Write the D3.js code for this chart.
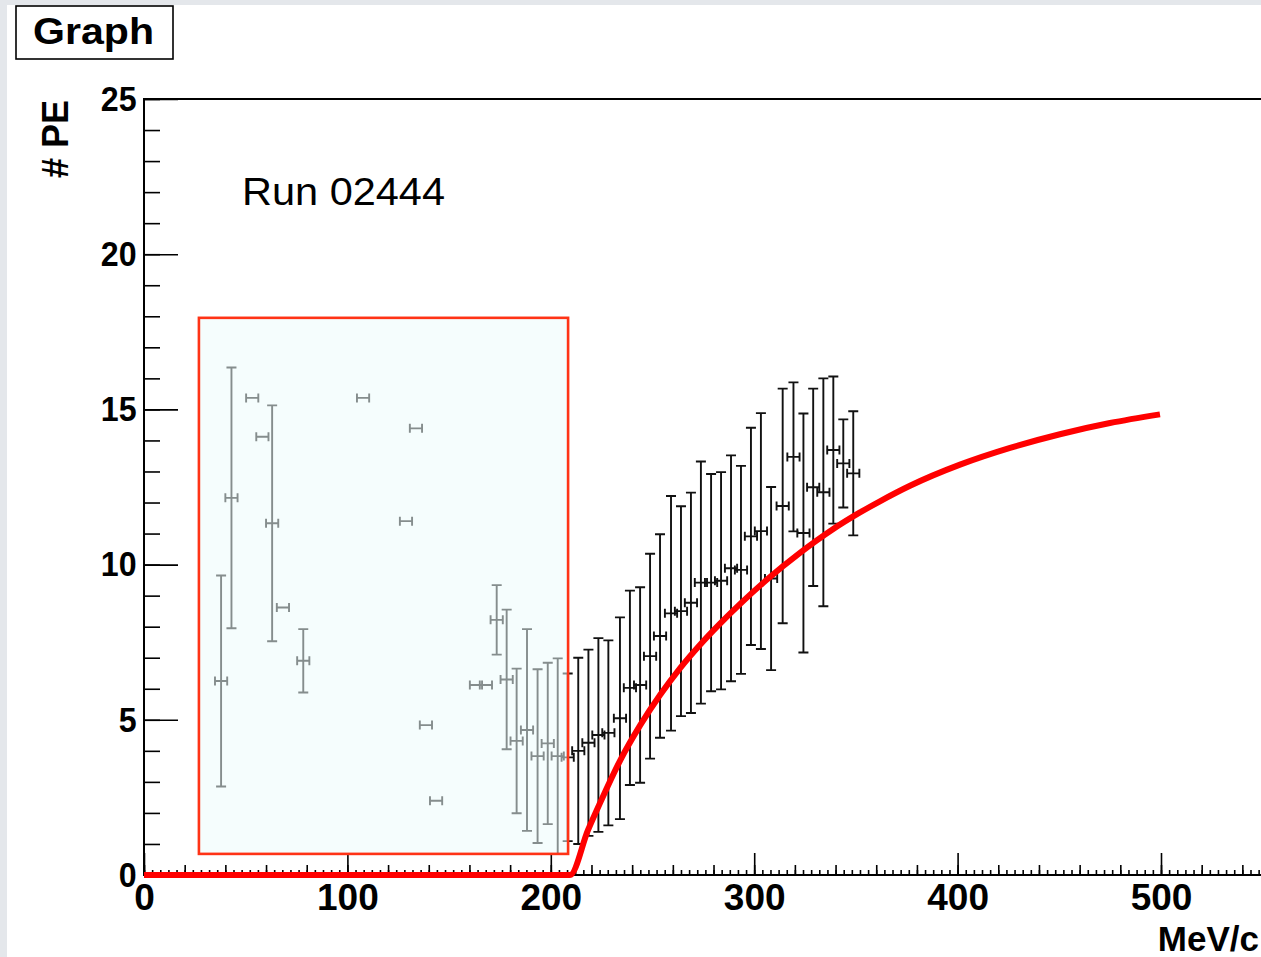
<!DOCTYPE html>
<html>
<head>
<meta charset="utf-8">
<script src="https://cdn.jsdelivr.net/npm/d3@7/dist/d3.min.js"></script>
<style>
  body { margin: 0; background: #fff; }
  svg { display: block; font-family: "Liberation Sans", Arial, Helvetica, sans-serif; }
</style>
</head>
<body>
<div id="chart"></div>
<script>
'use strict';

// measured points (MeV/c, #PE, error on #PE)
const ptX = [37.9, 43.0, 53.2, 58.2, 63.0, 68.3, 78.3, 107.7, 128.8, 133.7,
    138.6, 143.6, 163.2, 168.1, 173.4, 178.3, 183.2, 188.3, 193.5, 198.5,
    203.4, 208.3, 213.5, 218.5, 223.4, 228.3, 234.0, 238.9, 243.9, 248.8,
    253.7, 259.1, 264.0, 268.9, 273.8, 278.8, 283.7, 288.6, 293.5, 298.4,
    303.3, 308.3, 314.0, 319.3, 324.2, 329.0, 334.0, 338.9, 343.8, 348.7]
const ptY = [6.25, 12.15, 15.37, 14.12, 11.33, 8.62, 6.9, 15.37, 11.4, 14.39,
    4.83, 2.39, 6.12, 6.12, 8.22, 6.3, 4.32, 4.67, 3.83, 4.24,
    3.83, 3.79, 4.0, 4.26, 4.51, 4.58, 5.05, 6.03, 6.12, 7.05,
    7.7, 8.43, 8.5, 8.77, 9.42, 9.42, 9.48, 9.88, 9.83, 10.91,
    11.08, 9.55, 11.89, 13.47, 11.02, 12.49, 12.33, 13.69, 13.26, 12.94]
const ptEY = [3.4, 4.2, 0, 0, 3.8, 0, 1.02, 0, 0, 0,
    0, 0, 0, 0, 1.12, 2.25, 2.33, 3.25, 2.8, 2.6,
    3.15, 2.7, 3.0, 3.0, 3.12, 2.98, 3.25, 3.13, 3.15, 3.3,
    3.28, 3.78, 3.38, 3.55, 3.9, 3.5, 3.5, 3.64, 3.35, 3.5,
    3.8, 2.95, 3.78, 2.4, 3.85, 3.18, 3.67, 2.37, 1.42, 2.0]
const ptEX = 3

// fit curve
const fitX = [0, 209.4, 218.3, 224.2, 234, 243.9, 253.7, 263.5, 273.4, 283.2,
    293.5, 306.3, 322.5, 338.7, 352, 361.8, 376.6, 401.2, 425.8, 450.3, 474.9, 499.5]
const fitY = [0, 0, 1.45, 2.32, 3.68, 4.82, 5.8, 6.66, 7.42, 8.1,
    8.76, 9.52, 10.38, 11.14, 11.68, 12.04, 12.54, 13.22, 13.76, 14.2, 14.56, 14.84]

// highlighted (excluded) region, in data units
const boxX = [27, 208.5]
const boxY = [0.68, 17.95]

const xMajor = [0, 100, 200, 300, 400, 500]
const yMajor = [0, 5, 10, 15, 20, 25]

const W = 1261, H = 957
const padLeft = 144, padTop = 99, padBottom = 875

const svg = d3.select("#chart").append("svg")
    .attr("width", W)
    .attr("height", H)

// canvas border like the screenshot
svg.append("rect").attr("width", W).attr("height", H).attr("fill", "#e4e7eb")
svg.append("rect").attr("x", 7).attr("y", 5).attr("width", W).attr("height", H).attr("fill", "#fff")

const x = d3.scaleLinear().domain([0, 560]).range([padLeft, padLeft + 560 * 2.034])
const y = d3.scaleLinear().domain([0, 25]).range([padBottom, padTop])

// ---- axes
const xMinor = svg.append("g").attr("transform", `translate(0, ${padBottom})`)
    .call(d3.axisBottom(x).tickValues(d3.range(0, 561, 4)).tickSize(-5).tickFormat(""))
const xMid = svg.append("g").attr("transform", `translate(0, ${padBottom})`)
    .call(d3.axisBottom(x).tickValues(d3.range(0, 561, 20)).tickSize(-10).tickFormat(""))
const xAxis = svg.append("g").attr("transform", `translate(0, ${padBottom})`)
    .call(d3.axisBottom(x).tickValues(xMajor).tickSize(-22).tickPadding(9))

const yMinor = svg.append("g").attr("transform", `translate(${padLeft}, 0)`)
    .call(d3.axisLeft(y).tickValues(d3.range(0, 26, 1)).tickSize(-16).tickFormat(""))
const yAxis = svg.append("g").attr("transform", `translate(${padLeft}, 0)`)
    .call(d3.axisLeft(y).tickValues(yMajor).tickSize(-34).tickPadding(8))

for (const g of [xMinor, xMid, xAxis, yMinor, yAxis]) {
    g.select(".domain").remove()
    g.selectAll("line").attr("stroke", "#000").attr("stroke-width", 1.6)
}
xAxis.selectAll("text")
    .attr("font-size", 37).attr("font-weight", "bold").attr("fill", "#000")
yAxis.selectAll("text")
    .attr("font-size", 35).attr("font-weight", "bold").attr("fill", "#000")
    .attr("transform", "scale(0.92,1)")

// frame
svg.append("path")
    .attr("d", `M${W + 5},${padTop}H${padLeft}V${padBottom}H${W + 5}`)
    .attr("fill", "none")
    .attr("stroke", "#000")
    .attr("stroke-width", 2)

// ---- points with error bars
const pts = ptX.map((v, i) => ({ x: v, y: ptY[i], e: ptEY[i] }))
const pg = svg.append("g").attr("stroke", "#111").attr("stroke-width", 1.9).attr("fill", "none")
pts.forEach(p => {
    const cx = x(p.x), cy = y(p.y)
    const xl = x(p.x - ptEX), xr = x(p.x + ptEX)
    let d = `M${xl},${cy}H${xr}M${xl},${cy - 4.5}V${cy + 4.5}M${xr},${cy - 4.5}V${cy + 4.5}`
    if (p.e > 0) {
        const y0 = y(p.y - p.e), y1 = y(p.y + p.e)
        d += `M${cx},${y0}V${y1}M${cx - 5},${y0}H${cx + 5}M${cx - 5},${y1}H${cx + 5}`
    }
    pg.append("path").attr("d", d)
})

// ---- excluded region overlay
svg.append("rect")
    .attr("x", x(boxX[0]))
    .attr("y", y(boxY[1]))
    .attr("width", x(boxX[1]) - x(boxX[0]))
    .attr("height", y(boxY[0]) - y(boxY[1]))
    .attr("fill", "rgb(237,252,252)")
    .attr("fill-opacity", 0.53)
    .attr("stroke", "#ff3316")
    .attr("stroke-width", 2.6)

// ---- fit
svg.append("path")
    .datum(fitX.map((v, i) => [v, fitY[i]]))
    .attr("fill", "none")
    .attr("stroke", "#ff0000")
    .attr("stroke-width", 6)
    .attr("d", d3.line()
        .x(d => x(d[0]))
        .y(d => y(d[1]))
        .curve(d3.curveMonotoneX))

// ---- texts
svg.append("rect")
    .attr("x", 16).attr("y", 6).attr("width", 157).attr("height", 53)
    .attr("fill", "#fff").attr("stroke", "#000").attr("stroke-width", 1.6)
svg.append("text")
    .attr("x", 33).attr("y", 44)
    .attr("font-size", 37).attr("font-weight", "bold")
    .attr("textLength", 121).attr("lengthAdjust", "spacingAndGlyphs")
    .text("Graph")

svg.append("text")
    .attr("x", 242).attr("y", 205)
    .attr("font-size", 38)
    .attr("textLength", 203).attr("lengthAdjust", "spacingAndGlyphs")
    .text("Run 02444")

svg.append("text")
    .attr("transform", "translate(68, 100) rotate(-90)")
    .attr("text-anchor", "end")
    .attr("font-size", 36).attr("font-weight", "bold")
    .text("# PE")

svg.append("text")
    .attr("x", 1259).attr("y", 951)
    .attr("text-anchor", "end")
    .attr("font-size", 35).attr("font-weight", "bold")
    .text("MeV/c")
</script>
</body>
</html>
